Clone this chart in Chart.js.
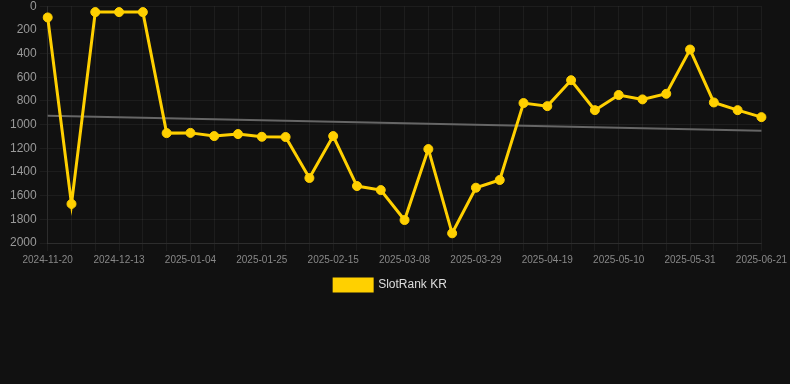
<!DOCTYPE html>
<html>
<head>
<meta charset="utf-8">
<script src="https://cdn.jsdelivr.net/npm/chart.js@4"></script>
<style>
  html, body { margin: 0; padding: 0; background: #111111; overflow: hidden; }
  #wrap { width: 790px; height: 305px; position: relative; margin-top: -4px; }
</style>
</head>
<body>
<div id="wrap"><canvas id="rankChart"></canvas></div>
<script>
// weekly snapshots
const dates = [
  '2024-11-20', '2024-11-28', '2024-12-05', '2024-12-13', '2024-12-20', '2024-12-27',
  '2025-01-04', '2025-01-11', '2025-01-18', '2025-01-25', '2025-02-01', '2025-02-08',
  '2025-02-15', '2025-02-22', '2025-03-01', '2025-03-08', '2025-03-15', '2025-03-22',
  '2025-03-29', '2025-04-05', '2025-04-12', '2025-04-19', '2025-04-26', '2025-05-03',
  '2025-05-10', '2025-05-17', '2025-05-24', '2025-05-31', '2025-06-07', '2025-06-14',
  '2025-06-21'
];
const rankKR = [
  95, 1670, 50, 50, 50, 1072,
  1070, 1097, 1080, 1103, 1105, 1451,
  1097, 1519, 1553, 1806, 1207, 1918,
  1533, 1468, 818, 844, 625, 878,
  750, 787, 740, 366, 813, 878,
  937
];
// trend line end points
const trendStart = 926;
const trendEnd = 1052;
const yTicks = [0, 200, 400, 600, 800, 1000, 1200, 1400, 1600, 1800, 2000];

const ctx = document.getElementById('rankChart').getContext('2d');
new Chart(ctx, {
  type: 'line',
  data: {
    labels: dates,
    datasets: [
      {
        label: 'SlotRank KR',
        data: rankKR,
        borderColor: '#FFD000',
        backgroundColor: '#FFD000',
        borderWidth: 3,
        pointRadius: 4.5,
        pointBorderWidth: 1,
        pointHoverRadius: 4.5,
        tension: 0,
      },
      {
        label: 'trend',
        data: [
          { x: dates[0], y: trendStart },
          { x: dates[dates.length - 1], y: trendEnd },
        ],
        borderColor: '#666666',
        borderWidth: 2,
        pointRadius: 0,
        tension: 0,
      },
    ],
  },
  options: {
    responsive: true,
    maintainAspectRatio: false,
    animation: false,
    layout: { padding: { top: 0, left: 7, right: 16 } },
    plugins: {
      legend: {
        position: 'bottom',
        labels: {
          color: '#dddddd',
          font: { family: 'Arial, Liberation Sans', size: 12 },
          boxWidth: 38,
          boxHeight: 12,
          filter: (item) => item.datasetIndex === 0,
        },
      },
      tooltip: { enabled: false },
    },
    scales: {
      x: {
        grid: { color: 'rgba(255,255,255,0.05)', drawTicks: true },
        border: { color: 'rgba(255,255,255,0.08)' },
        ticks: {
          color: '#888888',
          font: { family: 'Arial, Liberation Sans', size: 10 },
          autoSkip: false,
          maxRotation: 0,
          callback: function (val, i) {
            return i % 3 === 0 ? this.getLabelForValue(val) : '';
          },
        },
      },
      y: {
        reverse: true,
        min: 0,
        max: 2000,
        afterBuildTicks: (axis) => { axis.ticks = yTicks.map((v) => ({ value: v })); },
        grid: { color: 'rgba(255,255,255,0.05)' },
        border: { color: 'rgba(255,255,255,0.08)' },
        ticks: {
          color: '#999999',
          font: { family: 'Arial, Liberation Sans', size: 12 },
          callback: (v) => String(v),
        },
      },
    },
  },
});
</script>
</body>
</html>
